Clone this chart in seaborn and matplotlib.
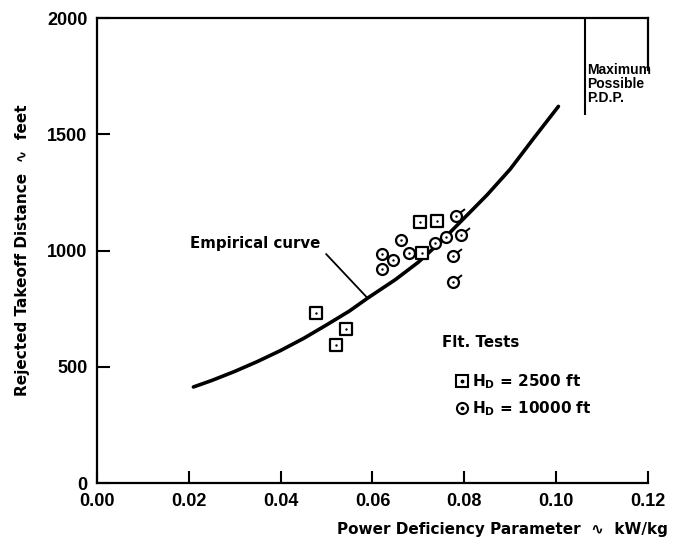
import numpy as np
import pandas as pd
import matplotlib
matplotlib.use("Agg")
import matplotlib.pyplot as plt
from matplotlib.path import Path
from matplotlib.lines import Line2D
from matplotlib.legend_handler import HandlerTuple
import seaborn as sns

# ---------------- data ----------------
curve_x = [0.021, 0.025, 0.030, 0.035, 0.040, 0.045, 0.050, 0.055, 0.059,
           0.065, 0.070, 0.075, 0.080, 0.085, 0.090, 0.095, 0.1005]
curve_y = [413, 441, 480, 523, 570, 622, 680, 740, 796,
           875, 950, 1040, 1140, 1240, 1350, 1480, 1620]

sq_x = [0.0476, 0.0521, 0.0542, 0.0703, 0.0708, 0.0741]
sq_y = [731, 594, 661, 1121, 988, 1127]

ci_x = [0.0620, 0.0620, 0.0644, 0.0663, 0.0679, 0.0736, 0.0761, 0.0775, 0.0775, 0.0783, 0.0792]
ci_y = [984, 920, 959, 1045, 990, 1034, 1060, 976, 863, 1150, 1067]
ci_flag = [False, False, False, False, False, False, False, True, True, True, True]

x_ticks = [0.00, 0.02, 0.04, 0.06, 0.08, 0.10, 0.12]
x_tick_labels = ["0.00", "0.02", "0.04", "0.06", "0.08", "0.10", "0.12"]
y_ticks = [0, 500, 1000, 1500, 2000]
y_tick_labels = ["0", "500", "1000", "1500", "2000"]

max_pdp_x = 0.1063
max_pdp_line_bottom = 1583
right_frame_bottom = 1776
leader_from = (0.0499, 985)
leader_to = (0.0589, 796)

# ---------------- style ----------------
sns.set_theme(style="ticks")
plt.rcParams["font.family"] = ["DejaVu Sans"]
plt.rcParams["font.weight"] = "bold"
plt.rcParams["mathtext.fontset"] = "dejavusans"
plt.rcParams["text.color"] = "black"
plt.rcParams["axes.labelcolor"] = "black"
plt.rcParams["xtick.color"] = "black"
plt.rcParams["ytick.color"] = "black"

fig = plt.figure(figsize=(6.73, 5.47), dpi=100)
fig.patch.set_facecolor("white")
ax = fig.add_axes([0.1441, 0.117, 0.8187, 0.850])
ax.set_facecolor("white")

# empirical curve
sns.lineplot(x=curve_x, y=curve_y, ax=ax, color="black", lw=2.6,
             sort=False, estimator=None, zorder=2)

# flight test points
sns.scatterplot(x=sq_x, y=sq_y, ax=ax, marker="s", s=70, color="white",
                edgecolor="black", linewidth=1.6, zorder=3, legend=False)
sns.scatterplot(x=ci_x, y=ci_y, ax=ax, marker="o", s=62, color="white",
                edgecolor="black", linewidth=1.6, zorder=3, legend=False)

flag_path = Path([[0.72, 0.72], [1.55, 1.35]], [Path.MOVETO, Path.LINETO])
fx = [x for x, f in zip(ci_x, ci_flag) if f]
fy = [y for y, f in zip(ci_y, ci_flag) if f]
sns.scatterplot(x=fx, y=fy, ax=ax, marker=flag_path, s=62 * 1.55 ** 2,
                color="black", edgecolor="black", linewidth=1.4, zorder=3,
                legend=False)
sns.scatterplot(x=sq_x + ci_x, y=sq_y + ci_y, ax=ax, marker="o", s=3,
                color="black", linewidth=0, zorder=4, legend=False)

# axes limits / ticks
ax.set_xlim(0, 0.12)
ax.set_ylim(0, 2000)
ax.set_xticks(x_ticks)
ax.set_xticklabels(x_tick_labels)
ax.set_yticks(y_ticks)
ax.set_yticklabels(y_tick_labels)
ax.tick_params(direction="in", length=9, width=1.5, pad=7, colors="black",
               top=False, right=False)
for lab in ax.get_xticklabels() + ax.get_yticklabels():
    lab.set_fontfamily(["Liberation Sans", "DejaVu Sans"])
    lab.set_fontsize(13)
    lab.set_fontweight("bold")
    lab.set_color("black")

for side in ["left", "bottom", "top", "right"]:
    ax.spines[side].set_color("black")
    ax.spines[side].set_linewidth(1.6)
ax.spines["right"].set_bounds(right_frame_bottom, 2000)

# axis labels
ax.set_xlabel("Power Deficiency Parameter  \u223f  kW/kg", fontsize=11,
              fontweight="bold", family=["DejaVu Sans"], color="black")
ax.xaxis.set_label_coords(1.036, -0.101)
ax.xaxis.label.set_ha("right")
ax.xaxis.label.set_va("center")
ax.set_ylabel("Rejected Takeoff Distance  \u223f  feet", fontsize=11,
              fontweight="bold", family=["DejaVu Sans"], color="black")
ax.yaxis.set_label_coords(-0.136, 0.5)
ax.yaxis.label.set_va("center")

# maximum possible PDP
ax.vlines(max_pdp_x, max_pdp_line_bottom, 2000, color="black", lw=1.5)
ax.text(max_pdp_x + 0.0005, 1805, "Maximum\nPossible\nP.D.P.", ha="left", va="top",
        fontsize=10, fontweight="bold", family=["Liberation Sans", "DejaVu Sans"],
        linespacing=1.0, color="black")

# empirical curve annotation
ax.annotate("", xy=leader_to, xytext=leader_from,
            arrowprops=dict(arrowstyle="-", lw=1.3, color="black",
                            shrinkA=0, shrinkB=0))
ax.text(0.0203, 1032, "Empirical curve", ha="left", va="center",
        fontsize=10.8, fontweight="bold", color="black")

# legend
ax.text(0.0751, 606, "Flt. Tests", ha="left", va="center", fontsize=10.8,
        fontweight="bold", color="black")
h_sq = Line2D([], [], marker="s", ms=8.3, mfc="white", mec="black", mew=1.5, ls="none")
h_ci = Line2D([], [], marker="o", ms=8.0, mfc="white", mec="black", mew=1.5, ls="none")
h_dot = Line2D([], [], marker="o", ms=1.8, mfc="black", mec="black", ls="none")
leg = ax.legend([(h_sq, h_dot), (h_ci, h_dot)],
                ["H$_\\mathbf{D}$ = 2500 ft", "H$_\\mathbf{D}$ = 10000 ft"],
                handler_map={tuple: HandlerTuple(ndivide=1)},
                loc="upper left", bbox_to_anchor=(0.648, 0.239),
                frameon=False, borderpad=0, borderaxespad=0,
                handlelength=1.0, handletextpad=0.2, labelspacing=0.55,
                prop=dict(size=11, weight="bold"))
for t in leg.get_texts():
    t.set_color("black")

fig.savefig("out.png", dpi=100, facecolor="white")
